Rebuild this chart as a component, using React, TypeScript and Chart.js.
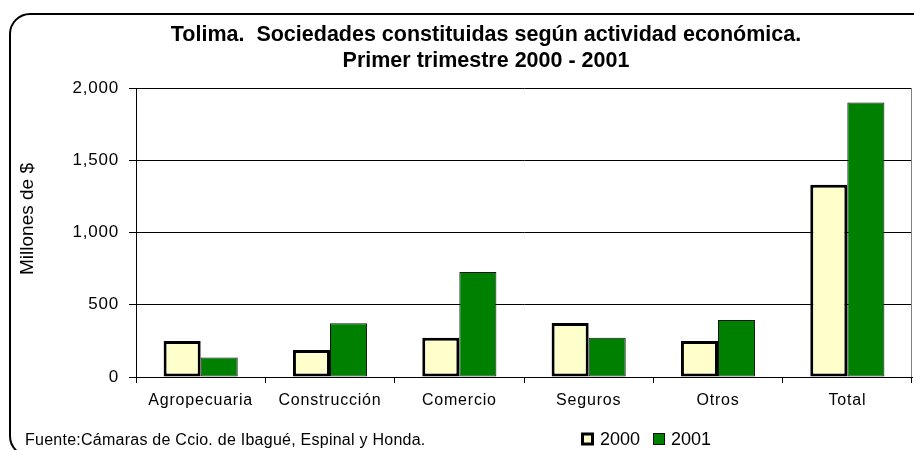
import React, { useEffect, useRef } from "react";
import { Chart, registerables } from "chart.js";

Chart.register(...registerables);

const categories = ["Agropecuaria", "Construcción", "Comercio", "Seguros", "Otros", "Total"];
const seriesNames = ["2000", "2001"];
const values2000 = [250, 187, 272, 374, 249, 1330];
const values2001 = [135, 372, 727, 272, 394, 1900];
const yTickValues = [0, 500, 1000, 1500, 2000];
const titleLines = [
  "Tolima.  Sociedades constituidas según actividad económica.",
  "Primer trimestre 2000 - 2001",
];
const yAxisTitle = "Millones de $";
const footerText = "Fuente:Cámaras de Ccio. de Ibagué, Espinal y Honda.";

const FONT = '"Liberation Sans", Arial, sans-serif';
const fill2000 = "#FFFFCC";
const fill2001 = "#008000";

const decorPlugin = {
  id: "decor",
  beforeDraw(chart: any) {
    const ctx = chart.ctx;
    ctx.save();
    ctx.fillStyle = "#ffffff";
    ctx.fillRect(0, 0, chart.width, chart.height);
    // rounded outer frame
    ctx.strokeStyle = "#000";
    ctx.lineWidth = 2;
    ctx.beginPath();
    (ctx as any).roundRect(10, 14, 930, 442, 20);
    ctx.stroke();
    ctx.restore();
    // spaced-out axis labels, as in the reference
    (ctx as any).letterSpacing = "0.8px";
  },
  beforeDatasetsDraw(chart: any) {
    (chart.ctx as any).letterSpacing = "0px";
  },
  afterDraw(chart: any) {
    const ctx = chart.ctx;
    const a = chart.chartArea;
    ctx.save();
    (ctx as any).letterSpacing = "0px";
    // plot area right border (gray)
    ctx.strokeStyle = "#808080";
    ctx.lineWidth = 1;
    ctx.beginPath();
    ctx.moveTo(Math.round(a.right) - 0.5, a.top);
    ctx.lineTo(Math.round(a.right) - 0.5, a.bottom);
    ctx.stroke();

    // title
    ctx.fillStyle = "#000";
    ctx.textAlign = "center";
    ctx.textBaseline = "alphabetic";
    ctx.font = `bold 21.5px ${FONT}`;
    const cx = 486;
    [41, 67].forEach((y, i) => {
      ctx.fillText(titleLines[i], cx, y);
    });

    // y-axis title
    ctx.save();
    ctx.translate(33, 219);
    ctx.rotate(-Math.PI / 2);
    ctx.font = `19px ${FONT}`;
    ctx.fillText(yAxisTitle, 0, 0);
    ctx.restore();

    // footer
    ctx.textAlign = "left";
    ctx.textBaseline = "middle";
    ctx.font = `16px ${FONT}`;
    (ctx as any).letterSpacing = "0.25px";
    ctx.fillText(footerText, 25, 441);
    (ctx as any).letterSpacing = "0px";

    // legend
    const ds = chart.data.datasets;
    const items = [
      { x: 581, w: 13 },
      { x: 653, w: 12 },
    ];
    ctx.font = `18px ${FONT}`;
    ds.forEach((d: any, i: number) => {
      const it = items[i];
      const y = 439 - it.w / 2;
      ctx.fillStyle = d.borderColor;
      ctx.fillRect(it.x, y, it.w, it.w);
      const bw = d.borderWidth;
      ctx.fillStyle = d.backgroundColor;
      ctx.fillRect(it.x + bw, y + bw, it.w - 2 * bw, it.w - 2 * bw);
      ctx.fillStyle = "#000";
      ctx.fillText(d.label, it.x + it.w + 6, 440);
    });
    ctx.restore();
  },
};

export default function App() {
  const ref = useRef<HTMLCanvasElement | null>(null);
  useEffect(() => {
    if (!ref.current) return;
    const chart = new Chart(ref.current, {
      type: "bar",
      data: {
        labels: categories,
        datasets: [
          {
            label: seriesNames[0],
            data: values2000,
            backgroundColor: fill2000,
            borderColor: "#000000",
            borderWidth: 3,
            borderSkipped: false,
            categoryPercentage: 0.573,
            barPercentage: 1,
          },
          {
            label: seriesNames[1],
            data: values2001,
            backgroundColor: fill2001,
            borderColor: "#111111",
            borderWidth: 1,
            borderSkipped: false,
            categoryPercentage: 0.573,
            barPercentage: 1,
          },
        ],
      },
      options: {
        responsive: false,
        animation: false,
        devicePixelRatio: 1,
        layout: { padding: { top: 88, right: 2, left: 0, bottom: 0 } },
        plugins: {
          legend: { display: false },
          title: { display: false },
          tooltip: { enabled: false },
        },
        scales: {
          x: {
            grid: {
              display: true,
              drawOnChartArea: false,
              drawTicks: true,
              tickLength: 6,
              color: "#000",
              offset: true,
            },
            border: { color: "#000", width: 1 },
            ticks: {
              color: "#000",
              font: { family: FONT, size: 16 },
              padding: 8,
            },
            afterFit: (s: any) => {
              s.height = 73;
            },
          },
          y: {
            min: 0,
            max: 2000,
            afterBuildTicks: (s: any) => {
              s.ticks = yTickValues.map((v) => ({ value: v }));
            },
            grid: { color: "#000", tickLength: 7, lineWidth: 1 },
            border: { color: "#000", width: 1 },
            ticks: {
              color: "#000",
              font: { family: FONT, size: 17 },
              padding: 10,
              callback: (v: any) => Number(v).toLocaleString("en-US"),
            },
            afterFit: (s: any) => {
              s.width = 136;
            },
          },
        },
      },
      plugins: [decorPlugin],
    });
    return () => chart.destroy();
  }, []);
  return (
    <div style={{ position: "absolute", left: 0, top: 0, width: 914, height: 450 }}>
      <canvas ref={ref} width={914} height={450} style={{ width: 914, height: 450 }} />
    </div>
  );
}
